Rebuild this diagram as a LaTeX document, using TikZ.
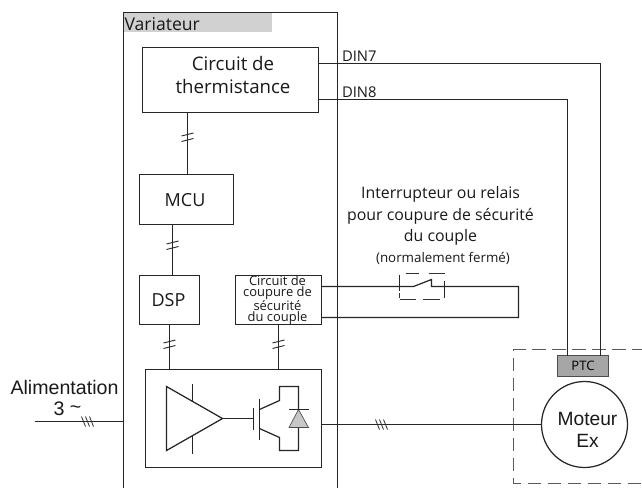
\documentclass[tikz,border=0pt]{standalone}
\usepackage{fontspec}
\setmainfont{Open Sans}
\newfontfamily\arialf{Liberation Sans}
\tikzset{
  wire/.style={line width=0.92pt,draw=black!85},
  box/.style={draw=black!85,line width=0.92pt,fill=white,inner sep=0pt,outer sep=0pt,align=center,text=black},
  lbl/.style={inner sep=0pt,outer sep=0pt,align=center,text=black!90},
  twoticks/.pic={\draw[line width=0.7pt,black!85] (-6,-3.5)--(6,-6.5) (-6,2)--(6,-1);},
  threeticks/.pic={\draw[line width=0.6pt,black!85] (-5,-5)--(-1,5) (-1,-5)--(3,5) (3,-5)--(7,5);},
}
\begin{document}
\begin{tikzpicture}[x=0.75pt,y=-0.75pt,font=\fontsize{13}{16}\selectfont]
\useasboundingbox (0,0) rectangle (642,487);
\clip (0,0) rectangle (642,487);
\begin{scope}[shift={(0.5,0.5)}]
% Variateur enclosure
\coordinate (varBL) at (123,490);
\coordinate (varTL) at (123,12);
\coordinate (varTR) at (337,12);
\coordinate (varBR) at (337,490);
\draw[wire] (varBL)--(varTL)--(varTR)--(varBR);
\node[inner sep=0pt,outer sep=0pt,fill=black!18,minimum width=111pt,minimum height=14pt,anchor=north west] (vartab) at (123.5,12.5) {};
\node[lbl,anchor=base west,font=\fontsize{13.2}{16}\selectfont] (vartxt) at (124,30) {Variateur};
% Boxes
\node[box,minimum width=132pt,minimum height=48.75pt] (therm) at (230,79.5) {};
\node[lbl,font=\fontsize{14}{17.2}\selectfont] (thermtxt) at (232.5,74.5) {Circuit de\\thermistance};
\node[box,minimum width=70.5pt,minimum height=37.5pt] (mcu) at (186,199) {};
\node[lbl,font=\fontsize{13.5}{16}\selectfont] (mcutxt) at (184.5,200) {MCU};
\node[box,minimum width=45pt,minimum height=36.75pt] (dsp) at (169,299.5) {};
\node[lbl,font=\fontsize{13.5}{16}\selectfont] (dsptxt) at (168,300) {DSP};
\node[box,minimum width=64.5pt,minimum height=36.75pt] (sto) at (278,299.5) {};
\node[lbl,font=\fontsize{9.7}{8.3}\selectfont] (stotxt) at (277,299.5) {Circuit de\\coupure de\\sécurité\\du couple};
\node[box,minimum width=132pt,minimum height=73.5pt] (power) at (233,418) {};
% Motor side
\coordinate (dashBL) at (513,483);
\coordinate (dashTL) at (513,349);
\coordinate (dashTR) at (645,349);
\coordinate (dashBR) at (645,483);
\draw[line width=1.05pt,draw=black!65,dash pattern=on 10pt off 5pt] (dashTR)--(dashTL)--(dashBL)--(dashBR);
\node[box,draw=black!70,fill=black!35,minimum width=38pt,minimum height=15.75pt,font=\fontsize{9.8}{12}\selectfont] (ptc) at (582.5,365.5) {PTC};
\node[box,circle,minimum size=64.5pt] (motor) at (584,424) {};
\node[lbl,font=\arialf\fontsize{14.4}{16}\selectfont] (motortxt) at (587,429.5) {Moteur\\Ex};
% DIN wires
\coordinate (din7x) at (600,0);
\coordinate (din8x) at (567,0);
\coordinate (din7y) at (0,63);
\coordinate (din8y) at (0,99);
\draw[wire] (therm.east |- din7y)--(din7x |- din7y)--(din7x |- ptc.north);
\draw[wire] (therm.east |- din8y)--(din8x |- din8y)--(din8x |- ptc.north);
\node[lbl,anchor=base west,font=\fontsize{11.1}{13}\selectfont] (din7l) at (341.5,61) {DIN7};
\node[lbl,anchor=base west,font=\fontsize{11.1}{13}\selectfont] (din8l) at (341.5,97) {DIN8};
% Bus connections
\coordinate (b1) at (187,0);
\coordinate (b2) at (172,0);
\coordinate (b3) at (169,0);
\coordinate (b4) at (278,0);
\draw[wire] (b1 |- therm.south)--(b1 |- mcu.north);
\pic at (187,139) {twoticks};
\draw[wire] (b2 |- mcu.south)--(b2 |- dsp.north);
\pic at (172,247) {twoticks};
\draw[wire] (b3 |- dsp.south)--(b3 |- power.north);
\pic at (169,346) {twoticks};
\draw[wire] (b4 |- sto.south)--(b4 |- power.north);
\pic at (278,346) {twoticks};
% Safe torque off loop
\coordinate (swL) at (399,286);
\coordinate (swB) at (413,286);
\coordinate (swT) at (431,279);
\coordinate (swC) at (431,286);
\coordinate (swR) at (444,286);
\coordinate (loopT) at (518,286);
\coordinate (loopB) at (518,317);
\draw[wire] (sto.east |- swL)--(swL)--(swB)--(swT)--(swC)--(swR)--(loopT)--(loopB)--(sto.east |- loopB);
\draw[wire] (399,274)--(399,290) (444,280)--(444,297);
\draw[line width=0.8pt,draw=black!80] (405,273)--(418,273) (428,273)--(444,273) (399,299)--(415,299) (422,299)--(439,299) (399,292)--(399,297);
\node[lbl,font=\fontsize{11.9}{16.1}\selectfont] (swtxt) at (440,215.5) {Interrupteur ou relais\\pour coupure de sécurité\\du couple};
\node[lbl,font=\fontsize{10}{12}\selectfont] (swtxt2) at (442.5,258) {(normalement fermé)};
% Amplifier and IGBT
\coordinate (ampA) at (166,386);
\coordinate (ampB) at (166,450);
\coordinate (ampC) at (222,418);
\draw[wire,line join=miter] (ampA)--(ampB)--(ampC)--cycle;
\draw[wire] (192,383)--(192,401) (192,435)--(192,453);
\coordinate (gate) at (253,418);
\draw[wire] (ampC)--(gate);
\draw[wire] (253,407)--(253,429);
\draw[wire] (259,398)--(259,439);
\draw[wire,line join=miter] (259,409)--(279,400)--(279,386)--(298,386)--(298,409);
\draw[wire,line join=miter] (259,428)--(279,437)--(279,450)--(298,450)--(298,427);
\draw[line width=0.5pt,draw=black!70,fill=black!22] (298,409)--(288.5,427)--(308,427)--cycle;
\draw[wire] (288.5,409)--(308,409);
% Supply and output
\coordinate (supply) at (34,421);
\draw[wire] (supply)--(varBL |- supply);
\pic at (86,421) {threeticks};
\node[lbl,font=\arialf\fontsize{14.7}{17}\selectfont] (alim) at (64,387) {Alimentation};
\node[lbl,font=\arialf\fontsize{14.7}{17}\selectfont] (three) at (67,408) {3 \raisebox{1pt}{\textasciitilde}};
\draw[wire] (power.east |- motor.west)--(motor.west);
\pic at (380,424) {threeticks};
\end{scope}
\end{tikzpicture}
\end{document}
